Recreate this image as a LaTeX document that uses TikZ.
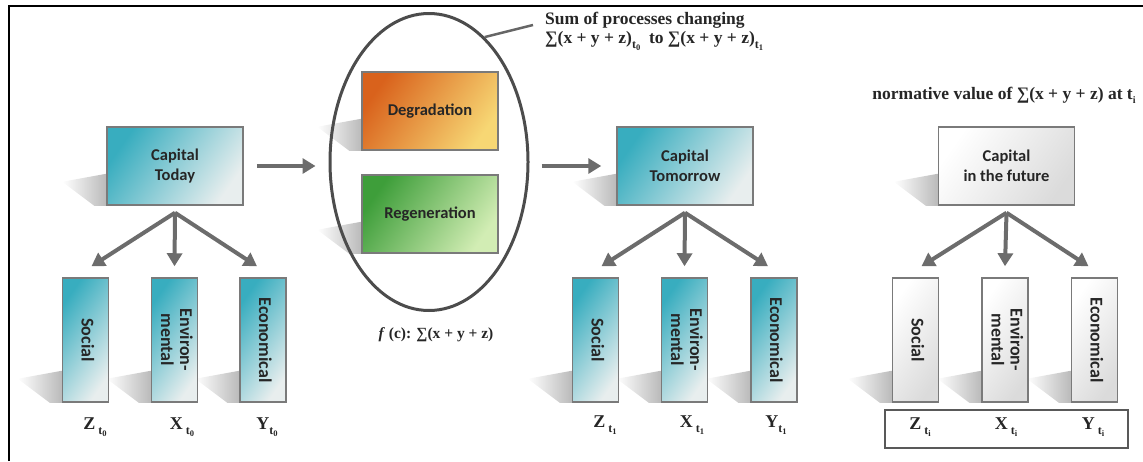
\documentclass[tikz,border=0pt]{standalone}
\usepackage{fontspec}
\setmainfont{Liberation Serif}
\newfontfamily\boxfont{Carlito}
\usetikzlibrary{arrows.meta,shapes.geometric,backgrounds}
\definecolor{tealA}{HTML}{38ADBF}
\definecolor{tealB}{HTML}{E8EEEE}
\definecolor{orA}{HTML}{D9621C}
\definecolor{orB}{HTML}{F7D774}
\definecolor{grA}{HTML}{3E9E3A}
\definecolor{grB}{HTML}{D2EDB4}
\definecolor{arrgray}{HTML}{6C6C6C}
\definecolor{bordgray}{HTML}{7A7A7A}
\newcommand{\tsub}[1]{\raisebox{-0.6ex}{\fontsize{12}{12}\selectfont t\raisebox{-0.35ex}{\fontsize{8.5}{8.5}\selectfont #1}}}
\newcommand{\vtext}[1]{\rotatebox{-90}{\begin{tabular}{@{}c@{}}#1\end{tabular}}}
\tikzset{
  basebox/.style={draw=bordgray, line width=1.5pt, align=center, text=black!85,
    font=\boxfont\bfseries\fontsize{16.5}{20}\selectfont, inner sep=0pt},
  cbox/.style={basebox, minimum width=136pt, minimum height=78pt},
  vbox/.style={basebox, minimum width=46pt, minimum height=124pt,
    font=\boxfont\bfseries\fontsize{18}{19}\selectfont},
  tealfill/.style={top color=tealA, bottom color=tealB, shading angle=55},
  whitefill/.style={top color=white, bottom color=black!14, shading angle=55},
  arr/.style={draw=arrgray, line width=4pt, -{Triangle[length=13pt,width=15pt]}},
  lab/.style={font=\bfseries\fontsize{18}{18}\selectfont, text=black!85, inner sep=0pt},
  ann/.style={font=\bfseries\fontsize{17.5}{20}\selectfont, text=black!85, inner sep=0pt, align=left},
}
% shadow to the lower left of a node
\newcommand{\shadowof}[1]{%
  \shade[left color=white, right color=black!27]
    ([shift={(0,-32)}]#1.south west) -- ([shift={(-44,-24)}]#1.south west)
    -- ([shift={(-12,0)}]#1.south west) -- (#1.south west) -- cycle;}
\begin{document}
\begin{tikzpicture}[x=1pt,y=-1pt]
\useasboundingbox (0,0) rectangle (1143,461);
% frame
\draw[line width=1.5pt] (9,461) -- (9,6) -- (1143,6);

% ---------- left group ----------
\node[cbox, tealfill] (today) at (175,166) {Capital\\Today};
\node[vbox, tealfill] (soc0) at (85.5,340) {\vtext{Social}};
\node[vbox, tealfill] (env0) at (174.5,340) {\vtext{Environ-\\mental}};
\node[vbox, tealfill] (eco0) at (263,340) {\vtext{Economical}};
\node[lab] (z0) at (95,427) {Z\,\tsub{0}};
\node[lab] (x0) at (182,427) {X\,\tsub{0}};
\node[lab] (y0) at (267,427) {Y\tsub{0}};

% ---------- process ellipse ----------
\node[ellipse, draw=black!70, line width=3pt, minimum width=198pt, minimum height=297pt] (proc) at (429,162) {};
\node[cbox, top color=orA, bottom color=orB, shading angle=55] (deg) at (430,111) {Degradation};
\node[cbox, top color=grA, bottom color=grB, shading angle=55] (reg) at (430,214) {Regeneration};
\node[ann, anchor=north west] (sumtxt) at (545,12) {Sum of processes changing\\[-1pt]
  ∑(x + y + z)\tsub{0} \ to ∑(x + y + z)\tsub{1}};
\coordinate (callend) at (533,25);
\draw[draw=black!60, line width=2.5pt] (proc.66) -- (callend);
\node[lab, font=\bfseries\fontsize{15.5}{15}\selectfont] (fc) at (436,335) {\textit{f} (c): ∑(x + y + z)};

% ---------- middle group ----------
\node[cbox, tealfill] (tom) at (685,166) {Capital\\Tomorrow};
\node[vbox, tealfill] (soc1) at (595.5,340) {\vtext{Social}};
\node[vbox, tealfill] (env1) at (684.5,340) {\vtext{Environ-\\mental}};
\node[vbox, tealfill] (eco1) at (774,340) {\vtext{Economical}};
\node[lab] (z1) at (605,425) {Z\,\tsub{1}};
\node[lab] (x1) at (692,425) {X\,\tsub{1}};
\node[lab] (y1) at (776,425) {Y\tsub{1}};

% ---------- right group ----------
\node[ann, anchor=center] (normtxt) at (1004,95) {normative value of ∑(x + y + z) at t\raisebox{-0.5ex}{\fontsize{10}{10}\selectfont i}};
\node[cbox, whitefill] (fut) at (1006.5,166) {Capital\\in the future};
\node[vbox, whitefill] (soc2) at (915.5,340) {\vtext{Social}};
\node[vbox, whitefill] (env2) at (1005,340) {\vtext{Environ-\\mental}};
\node[vbox, whitefill] (eco2) at (1094.5,340) {\vtext{Economical}};
\node[draw=black!65, line width=1.5pt, minimum width=243pt, minimum height=38pt, inner sep=0pt] (trow) at (1006.5,429) {};
\node[lab] (z2) at (920,427) {Z\,\tsub{i}};
\node[lab] (x2) at (1006,427) {X\,\tsub{i}};
\node[lab] (y2) at (1093,427) {Y\,\tsub{i}};

% ---------- shadows (behind) ----------
\begin{scope}[on background layer]
  \foreach \n in {today,soc0,env0,eco0,deg,reg,tom,soc1,env1,eco1,fut,soc2,env2,eco2}{\shadowof{\n}}
\end{scope}

% ---------- arrows ----------
\draw[arr, shorten <=13pt, shorten >=13pt] (today.east) -- (today.east -| proc.west);
\draw[arr, shorten <=12pt, shorten >=15pt] (proc.east |- tom.west) -- (tom.west);

\foreach \src/\a/\b/\c in {today/soc0/env0/eco0, tom/soc1/env1/eco1, fut/soc2/env2/eco2}{
  \coordinate (o) at ([yshift=-7pt]\src.south);
  \draw[arr] (o) -- ([shift={(6,-11)}]\a.north);
  \draw[arr] (o) -- ([shift={(0,-11)}]\b.north);
  \draw[arr] (o) -- ([shift={(-6,-11)}]\c.north);
}
\end{tikzpicture}
\end{document}
